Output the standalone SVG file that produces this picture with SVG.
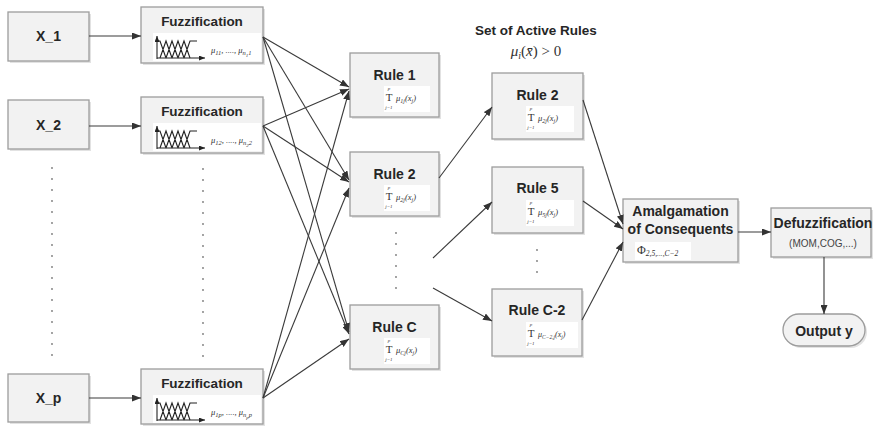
<svg xmlns="http://www.w3.org/2000/svg" xmlns:xlink="http://www.w3.org/1999/xlink" width="873" height="426" viewBox="0 0 873 426">
  <style>
    .box { fill: #f2f2f2; stroke: #9c9c9c; stroke-width: 1.3; }
    .sh { fill: #e2e2e2; }
    .wb { fill: #ffffff; }
    .lbl { font-family: "Liberation Sans", Arial, sans-serif; font-weight: bold; font-size: 14px; fill: #262626; text-anchor: middle; }
    .fz { font-size: 13.5px; }
    .sub { font-family: "Liberation Sans", Arial, sans-serif; font-size: 10px; fill: #444; text-anchor: middle; }
    .math { font-family: "Liberation Serif", "DejaVu Serif", serif; font-style: italic; fill: #333; }
    .up { font-family: "Liberation Serif", "DejaVu Serif", serif; fill: #333; }
    .op { font-family: "Liberation Serif", "DejaVu Serif", serif; fill: #333; text-anchor: middle; }
    .conn { stroke: #3a3a3a; stroke-width: 1.1; fill: none; marker-end: url(#ah); }
    .mf { stroke: #222; stroke-width: 1.1; fill: none; }
    .ax { stroke: #222; stroke-width: 1.1; fill: none; marker-end: url(#ahs); }
    .dot { fill: #7a7a7a; }
  </style>
  <defs>
    <marker id="ah" markerWidth="9" markerHeight="7" refX="9" refY="3.5" orient="auto" markerUnits="userSpaceOnUse">
      <path d="M0,0 L9,3.5 L0,7 z" fill="#333"/>
    </marker>
    <marker id="ahs" markerWidth="6" markerHeight="5" refX="6" refY="2.5" orient="auto" markerUnits="userSpaceOnUse">
      <path d="M0,0 L6,2.5 L0,5 z" fill="#222"/>
    </marker>
    <!-- membership-function sketch used inside each fuzzification block -->
    <g id="mfplot">
      <rect class="wb" x="12" y="26" width="108" height="28"/>
      <path class="ax" d="M16,52 V29"/>
      <path class="ax" d="M16,51 H64"/>
      <path class="mf" d="M17,34 H19 L25,51 M19,51 L25,34 L31,51 M25,51 L31,34 L37,51 M31,51 L37,34 L43,51 M37,51 L43,34 L49,51 M43,51 L49,34 H56"/>
    </g>
  </defs>

  <!-- inputs -->
  <g id="x1">
    <rect class="sh" x="10" y="14" width="81" height="49"/>
    <rect class="box" x="8" y="12" width="81" height="49"/>
    <text class="lbl" x="48.5" y="41">X_1</text>
  </g>
  <g id="x2">
    <rect class="sh" x="10" y="102" width="81" height="49"/>
    <rect class="box" x="8" y="100" width="81" height="49"/>
    <text class="lbl" x="48.5" y="130">X_2</text>
  </g>
  <g id="xp">
    <rect class="sh" x="10" y="376" width="81" height="48"/>
    <rect class="box" x="8" y="374" width="81" height="48"/>
    <text class="lbl" x="48.5" y="403">X_p</text>
  </g>

  <!-- fuzzification blocks -->
  <g id="fuzz1">
    <rect class="sh" x="143" y="9" width="122" height="56"/>
    <rect class="box" x="141" y="7" width="122" height="56"/>
    <text class="lbl fz" x="202" y="26">Fuzzification</text>
    <use xlink:href="#mfplot" x="141" y="7"/>
    <text class="math" x="211" y="53" font-size="8.5">μ<tspan font-size="6.5" dy="2">11</tspan><tspan dy="-2">, ...., μ</tspan><tspan font-size="6.5" dy="2">n</tspan><tspan font-size="5" dy="1.5">1</tspan><tspan font-size="6.5" dy="-1.5">1</tspan></text>
  </g>
  <g id="fuzz2">
    <rect class="sh" x="143" y="99" width="122" height="56"/>
    <rect class="box" x="141" y="97" width="122" height="56"/>
    <text class="lbl fz" x="202" y="116">Fuzzification</text>
    <use xlink:href="#mfplot" x="141" y="97"/>
    <text class="math" x="211" y="143" font-size="8.5">μ<tspan font-size="6.5" dy="2">12</tspan><tspan dy="-2">, ...., μ</tspan><tspan font-size="6.5" dy="2">n</tspan><tspan font-size="5" dy="1.5">2</tspan><tspan font-size="6.5" dy="-1.5">2</tspan></text>
  </g>
  <g id="fuzzp">
    <rect class="sh" x="143" y="371" width="122" height="55"/>
    <rect class="box" x="141" y="369" width="122" height="55"/>
    <text class="lbl fz" x="202" y="388">Fuzzification</text>
    <use xlink:href="#mfplot" x="141" y="369"/>
    <text class="math" x="211" y="415" font-size="8.5">μ<tspan font-size="6.5" dy="2">1p</tspan><tspan dy="-2">, ...., μ</tspan><tspan font-size="6.5" dy="2">n</tspan><tspan font-size="5" dy="1.5">p</tspan><tspan font-size="6.5" dy="-1.5">p</tspan></text>
  </g>

  <!-- rule base -->
  <g id="rule1">
    <rect class="sh" x="352" y="55" width="89" height="64"/>
    <rect class="box" x="350" y="53" width="89" height="64"/>
    <text class="lbl" x="394.5" y="80">Rule 1</text>
    <rect class="wb" x="384" y="86" width="46" height="26"/>
    <text class="math" x="389" y="89.5" font-size="5" text-anchor="middle">p</text>
    <text class="op" x="389" y="101" font-size="11">T</text>
    <text class="math" x="389" y="109" font-size="5" text-anchor="middle">j=1</text>
    <text class="math" x="396" y="101" font-size="8.5">μ<tspan font-size="6" dy="2">1j</tspan><tspan dy="-2">(x</tspan><tspan font-size="6" dy="2">j</tspan><tspan dy="-2">)</tspan></text>
  </g>
  <g id="rule2">
    <rect class="sh" x="352" y="154" width="89" height="64"/>
    <rect class="box" x="350" y="152" width="89" height="64"/>
    <text class="lbl" x="394.5" y="179">Rule 2</text>
    <rect class="wb" x="384" y="185" width="46" height="26"/>
    <text class="math" x="389" y="188.5" font-size="5" text-anchor="middle">p</text>
    <text class="op" x="389" y="200" font-size="11">T</text>
    <text class="math" x="389" y="208" font-size="5" text-anchor="middle">j=1</text>
    <text class="math" x="396" y="200" font-size="8.5">μ<tspan font-size="6" dy="2">2j</tspan><tspan dy="-2">(x</tspan><tspan font-size="6" dy="2">j</tspan><tspan dy="-2">)</tspan></text>
  </g>
  <g id="ruleC">
    <rect class="sh" x="352" y="307" width="89" height="64"/>
    <rect class="box" x="350" y="305" width="89" height="64"/>
    <text class="lbl" x="394.5" y="332">Rule C</text>
    <rect class="wb" x="384" y="338" width="46" height="26"/>
    <text class="math" x="389" y="341.5" font-size="5" text-anchor="middle">p</text>
    <text class="op" x="389" y="353" font-size="11">T</text>
    <text class="math" x="389" y="361" font-size="5" text-anchor="middle">j=1</text>
    <text class="math" x="396" y="353" font-size="8.5">μ<tspan font-size="6" dy="2">Cj</tspan><tspan dy="-2">(x</tspan><tspan font-size="6" dy="2">j</tspan><tspan dy="-2">)</tspan></text>
  </g>

  <!-- active rules -->
  <g id="active-title">
    <text class="lbl fz" x="536" y="35">Set of Active Rules</text>
    <text class="math" x="536" y="56" font-size="15" text-anchor="middle">μ<tspan font-size="10" dy="3">i</tspan><tspan class="up" font-style="normal" dy="-3">(</tspan>x̄<tspan class="up" font-style="normal">) &gt; 0</tspan></text>
  </g>
  <g id="act2">
    <rect class="sh" x="494" y="75" width="91" height="66"/>
    <rect class="box" x="492" y="73" width="91" height="66"/>
    <text class="lbl" x="537.5" y="100">Rule 2</text>
    <rect class="wb" x="526" y="106" width="48" height="26"/>
    <text class="math" x="531" y="109.5" font-size="5" text-anchor="middle">p</text>
    <text class="op" x="531" y="121" font-size="11">T</text>
    <text class="math" x="531" y="129" font-size="5" text-anchor="middle">j=1</text>
    <text class="math" x="538" y="121" font-size="8.5">μ<tspan font-size="6" dy="2">2j</tspan><tspan dy="-2">(x</tspan><tspan font-size="6" dy="2">j</tspan><tspan dy="-2">)</tspan></text>
  </g>
  <g id="act5">
    <rect class="sh" x="494" y="169" width="91" height="66"/>
    <rect class="box" x="492" y="167" width="91" height="66"/>
    <text class="lbl" x="537.5" y="193">Rule 5</text>
    <rect class="wb" x="526" y="200" width="48" height="26"/>
    <text class="math" x="531" y="203.5" font-size="5" text-anchor="middle">p</text>
    <text class="op" x="531" y="215" font-size="11">T</text>
    <text class="math" x="531" y="223" font-size="5" text-anchor="middle">j=1</text>
    <text class="math" x="538" y="215" font-size="8.5">μ<tspan font-size="6" dy="2">5j</tspan><tspan dy="-2">(x</tspan><tspan font-size="6" dy="2">j</tspan><tspan dy="-2">)</tspan></text>
  </g>
  <g id="actC2">
    <rect class="sh" x="494" y="291" width="90" height="67"/>
    <rect class="box" x="492" y="289" width="90" height="67"/>
    <text class="lbl" x="537" y="315">Rule C-2</text>
    <rect class="wb" x="526" y="322" width="52" height="26"/>
    <text class="math" x="531" y="325.5" font-size="5" text-anchor="middle">p</text>
    <text class="op" x="531" y="337" font-size="11">T</text>
    <text class="math" x="531" y="345" font-size="5" text-anchor="middle">j=1</text>
    <text class="math" x="538" y="337" font-size="8">μ<tspan font-size="5.5" dy="2">C−2,j</tspan><tspan dy="-2">(x</tspan><tspan font-size="5.5" dy="2">j</tspan><tspan dy="-2">)</tspan></text>
  </g>

  <!-- aggregation and output -->
  <g id="amalg">
    <rect class="sh" x="625" y="201" width="115" height="63"/>
    <rect class="box" x="623" y="199" width="115" height="63"/>
    <text class="lbl" x="680.5" y="216">Amalgamation</text>
    <text class="lbl" x="680.5" y="234">of Consequents</text>
    <rect class="wb" x="635" y="242" width="56" height="18"/>
    <text class="up" x="637" y="254" font-size="12">Φ<tspan class="math" font-size="7.5" dy="2">2,5,...,C−2</tspan></text>
  </g>
  <g id="defuzz">
    <rect class="sh" x="773" y="210" width="100" height="49"/>
    <rect class="box" x="771" y="208" width="100" height="49"/>
    <text class="lbl" x="823" y="228">Defuzzification</text>
    <text class="sub" x="823" y="247">(MOM,COG,...)</text>
  </g>
  <g id="output">
    <rect class="sh" x="785" y="316" width="82" height="32" rx="16"/>
    <rect class="box" x="783" y="314" width="82" height="32" rx="16"/>
    <text class="lbl" x="824" y="336">Output y</text>
  </g>

  <!-- ellipsis dots -->
  <g id="ellipses">
    <circle class="dot" cx="52" cy="168" r="0.9"/><circle class="dot" cx="52" cy="179" r="0.9"/><circle class="dot" cx="52" cy="190" r="0.9"/><circle class="dot" cx="52" cy="201" r="0.9"/><circle class="dot" cx="52" cy="212" r="0.9"/><circle class="dot" cx="52" cy="223" r="0.9"/><circle class="dot" cx="52" cy="234" r="0.9"/><circle class="dot" cx="52" cy="245" r="0.9"/><circle class="dot" cx="52" cy="256" r="0.9"/><circle class="dot" cx="52" cy="267" r="0.9"/><circle class="dot" cx="52" cy="278" r="0.9"/><circle class="dot" cx="52" cy="289" r="0.9"/><circle class="dot" cx="52" cy="300" r="0.9"/><circle class="dot" cx="52" cy="311" r="0.9"/><circle class="dot" cx="52" cy="322" r="0.9"/><circle class="dot" cx="52" cy="333" r="0.9"/><circle class="dot" cx="52" cy="344" r="0.9"/><circle class="dot" cx="52" cy="355" r="0.9"/>
    <circle class="dot" cx="203" cy="169" r="0.9"/><circle class="dot" cx="203" cy="180" r="0.9"/><circle class="dot" cx="203" cy="191" r="0.9"/><circle class="dot" cx="203" cy="202" r="0.9"/><circle class="dot" cx="203" cy="213" r="0.9"/><circle class="dot" cx="203" cy="224" r="0.9"/><circle class="dot" cx="203" cy="235" r="0.9"/><circle class="dot" cx="203" cy="246" r="0.9"/><circle class="dot" cx="203" cy="257" r="0.9"/><circle class="dot" cx="203" cy="268" r="0.9"/><circle class="dot" cx="203" cy="279" r="0.9"/><circle class="dot" cx="203" cy="290" r="0.9"/><circle class="dot" cx="203" cy="301" r="0.9"/><circle class="dot" cx="203" cy="312" r="0.9"/><circle class="dot" cx="203" cy="323" r="0.9"/><circle class="dot" cx="203" cy="334" r="0.9"/><circle class="dot" cx="203" cy="345" r="0.9"/><circle class="dot" cx="203" cy="356" r="0.9"/>
    <circle class="dot" cx="396" cy="233" r="0.9"/><circle class="dot" cx="396" cy="244" r="0.9"/><circle class="dot" cx="396" cy="255" r="0.9"/><circle class="dot" cx="396" cy="266" r="0.9"/><circle class="dot" cx="396" cy="277" r="0.9"/><circle class="dot" cx="396" cy="288" r="0.9"/>
    <circle class="dot" cx="537" cy="250" r="0.9"/><circle class="dot" cx="537" cy="261" r="0.9"/><circle class="dot" cx="537" cy="272" r="0.9"/>
  </g>

  <!-- connectors -->
  <g id="connectors">
    <path class="conn" d="M89,36 H141"/>
    <path class="conn" d="M89,126 H141"/>
    <path class="conn" d="M89,398 H141"/>

    <path class="conn" d="M263,37 L349,87"/>
    <path class="conn" d="M263,37 L349,180"/>
    <path class="conn" d="M263,37 L349,332"/>
    <path class="conn" d="M263,126 L349,89"/>
    <path class="conn" d="M263,126 L349,182"/>
    <path class="conn" d="M263,126 L349,334"/>
    <path class="conn" d="M263,398 L349,91"/>
    <path class="conn" d="M263,398 L349,188"/>
    <path class="conn" d="M263,398 L349,339"/>

    <path class="conn" d="M439,178 L492,107"/>
    <path class="conn" d="M433,258 L492,202"/>
    <path class="conn" d="M433,288 L492,321"/>

    <path class="conn" d="M583,100 L623,224"/>
    <path class="conn" d="M583,201 L623,229"/>
    <path class="conn" d="M582,320 L623,242"/>

    <path class="conn" d="M738,232 H771"/>
    <path class="conn" d="M824,257 V314"/>
  </g>
</svg>
